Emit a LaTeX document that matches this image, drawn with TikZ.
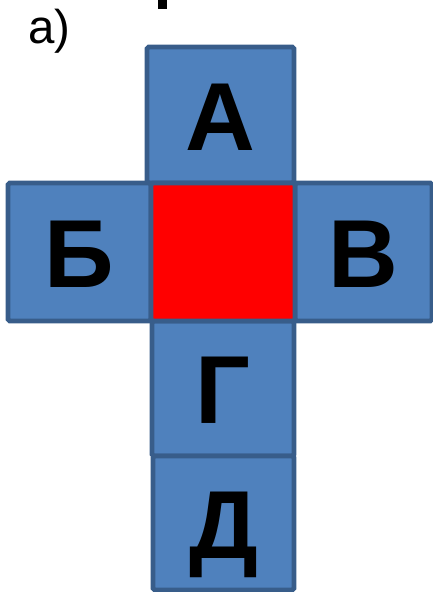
\documentclass[tikz,border=0pt]{standalone}
\usepackage{fontspec}
\setmainfont{Liberation Sans}
\definecolor{faceblue}{HTML}{4F81BD}
\definecolor{edgeblue}{HTML}{385D8A}
\definecolor{facered}{HTML}{FF0000}
\tikzset{
  face/.style={draw=edgeblue,fill=faceblue,line width=2.7pt,rounded corners=1pt,
    inner sep=0pt,text height=40pt,text depth=0pt,
    font=\fontsize{55}{60}\selectfont\bfseries},
}
\begin{document}
\begin{tikzpicture}[x=0.02cm,y=-0.02cm]
    \useasboundingbox (0,0) rectangle (433,592);
    \fill (158,0) rectangle (167,9);
    \node[anchor=base west,inner sep=0pt,font=\fontsize{27}{30}\selectfont] (lbl) at (28,43) {а)};

    \node[face,minimum width=2.94cm,minimum height=2.72cm] (a) at (220.5,115) {А};
    \node[face,minimum width=2.86cm,minimum height=2.76cm] (b) at (79.5,252) {Б};
    \node[face,minimum width=2.74cm,minimum height=2.76cm] (v) at (363.5,252) {В};
    \node[face,minimum width=2.84cm,minimum height=2.70cm] (g) at (223,388.5) {Г};
    \node[face,minimum width=2.82cm,minimum height=2.68cm] (d) at (223.5,523) {Д};
    \node[face,fill=facered,minimum width=2.88cm,minimum height=2.76cm] (c) at (223,252) {};
\end{tikzpicture}
\end{document}
